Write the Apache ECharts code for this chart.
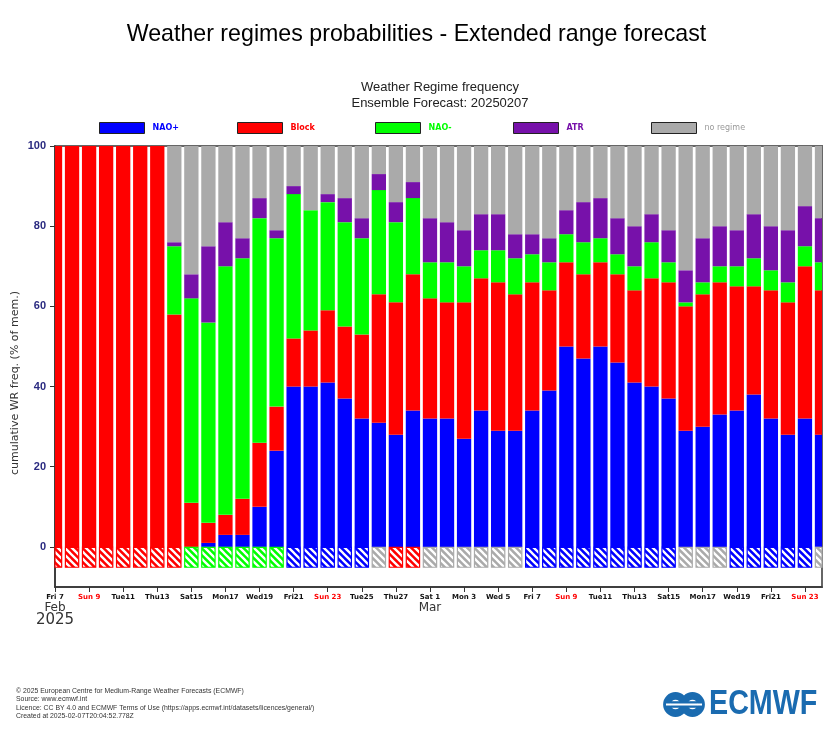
<!DOCTYPE html>
<html>
<head>
<meta charset="utf-8">
<script src="https://cdn.jsdelivr.net/npm/echarts@6/dist/echarts.min.js"></script>
<style>
html,body{margin:0;padding:0;background:#fff;}
#chart{width:833px;height:750px;}
</style>
</head>
<body>
<div id="chart"></div>
<script>
// ---- data ----
const days = ['Fri 7','Sat 8','Sun 9','Mon10','Tue11','Wed12','Thu13','Fri14','Sat15','Sun16','Mon17','Tue18','Wed19','Thu20',
  'Fri21','Sat22','Sun 23','Mon24','Tue25','Wed26','Thu27','Fri28','Sat 1','Sun 2','Mon 3','Tue 4','Wed 5','Thu 6',
  'Fri 7','Sat 8','Sun 9','Mon10','Tue11','Wed12','Thu13','Fri14','Sat15','Sun16','Mon17','Tue18','Wed19','Thu20',
  'Fri21','Sat22','Sun 23','Mon24'];
const monthLabels = {0: ['Feb', '2025'], 22: ['Mar']};
const naoPlus = [0,0,0,0,0,0,0,0,0,1,3,3,10,24,40,40,41,37,32,31,28,34,32,32,27,34,29,29,34,39,50,47,50,46,41,40,37,29,30,33,34,38,32,28,32,28];
const block   = [100,100,100,100,100,100,100,58,11,5,5,9,16,11,12,14,18,18,21,32,33,34,30,29,34,33,37,34,32,25,21,21,21,22,23,27,29,31,33,33,31,27,32,33,38,36];
const naoMinus= [0,0,0,0,0,0,0,17,51,50,62,60,56,42,36,30,27,26,24,26,20,19,9,10,9,7,8,9,7,7,7,8,6,5,6,9,5,1,3,4,5,7,5,5,5,7];
const atr     = [0,0,0,0,0,0,0,1,6,19,11,5,5,2,2,0,2,6,5,4,5,4,11,10,9,9,9,6,5,6,6,10,10,9,10,7,8,8,11,10,9,11,11,13,10,11];
const noRegime= [0,0,0,0,0,0,0,24,32,25,19,23,13,21,10,16,12,13,18,7,14,9,18,19,21,17,17,22,22,23,16,14,13,18,20,17,21,31,23,20,21,17,20,21,15,18];
// dominant regime shown in the hatched strip below 0
const dominant = ['Block','Block','Block','Block','Block','Block','Block','Block',
  'NAO-','NAO-','NAO-','NAO-','NAO-','NAO-',
  'NAO+','NAO+','NAO+','NAO+','NAO+',
  'none','Block','Block',
  'none','none','none','none','none','none',
  'NAO+','NAO+','NAO+','NAO+','NAO+','NAO+','NAO+','NAO+','NAO+',
  'none','none','none',
  'NAO+','NAO+','NAO+','NAO+','NAO+',
  'none'];
const yTicks = [0,20,40,60,80,100];

// ---- styles ----
const COLORS = {'NAO+':'#0000ff','Block':'#ff0000','NAO-':'#00ff00','ATR':'#7711aa','none':'#aaaaaa'};
const NAMES = ['NAO+','Block','NAO-','ATR','no regime'];
const KEYS = ['NAO+','Block','NAO-','ATR','none'];
const SERIES_DATA = [naoPlus, block, naoMinus, atr, noRegime];
const HATCH_DEPTH = -5.2;
const BAR_W = 14.3;

function hatch(color){
  const n = 7;
  const c = document.createElement('canvas');
  c.width = n; c.height = n;
  const g = c.getContext('2d');
  g.fillStyle = color; g.fillRect(0,0,n,n);
  g.strokeStyle = '#ffffff'; g.lineWidth = 2.3;
  g.beginPath();
  g.moveTo(-2,-2); g.lineTo(n+2,n+2);
  g.moveTo(-2,n-2); g.lineTo(2,n+2);
  g.moveTo(n-2,-2); g.lineTo(n+2,2);
  g.stroke();
  return c;
}
const hatchImgs = {};
KEYS.forEach(k => hatchImgs[k] = hatch(COLORS[k]));

const chart = echarts.init(document.getElementById('chart'), null, {renderer:'canvas'});

function clipToGrid(params, r){
  const cs = params.coordSys;
  return echarts.graphic.clipRectByRect(r, {x: cs.x, y: cs.y, width: cs.width, height: cs.height});
}
function renderBar(params, api){
  const x = api.value(0), v0 = api.value(1), v1 = api.value(2);
  if (v0 === v1) return null;
  const p0 = api.coord([x, v0]), p1 = api.coord([x, v1]);
  const r = clipToGrid(params, {x: p0[0] - BAR_W/2, y: Math.min(p0[1], p1[1]), width: BAR_W, height: Math.abs(p0[1] - p1[1])});
  if (!r) return null;
  return {type: 'rect', shape: r, style: api.style()};
}
function renderHatch(params, api){
  const x = api.value(0), v0 = api.value(1), v1 = api.value(2);
  const k = KEYS[api.value(3)];
  const p0 = api.coord([x, v0]), p1 = api.coord([x, v1]);
  const r = clipToGrid(params, {x: p0[0] - BAR_W/2 + 0.5, y: Math.min(p0[1], p1[1]) + 0.5, width: BAR_W - 1, height: Math.abs(p0[1] - p1[1]) - 1});
  if (!r) return null;
  return {type: 'rect', shape: r, style: {fill: {image: hatchImgs[k], repeat: 'repeat'}, stroke: COLORS[k], lineWidth: 1.2}};
}

// stacked segments built from the arrays
const base = days.map(() => 0);
const series = NAMES.map((n,i) => {
  const data = SERIES_DATA[i].map((v, d) => { const s = base[d]; base[d] += v; return [d, s, s + v]; });
  return {
    name: n, type: 'custom', renderItem: renderBar, data: data,
    encode: {x: 0, y: [1, 2]},
    itemStyle: {color: COLORS[KEYS[i]]},
    emphasis: {disabled: true}, animation: false
  };
});
series.push({
  name: 'dominant', type: 'custom', renderItem: renderHatch, animation: false,
  encode: {x: 0, y: [1, 2]}, emphasis: {disabled: true},
  data: dominant.map((k, d) => [d, 0, HATCH_DEPTH, KEYS.indexOf(k)])
});

const legendX = [99, 237, 375, 513, 651];
const legends = NAMES.map((n,i) => ({
  data: [n], left: legendX[i], top: 122, padding: 0,
  itemWidth: 45, itemHeight: 11, icon: 'rect', selectedMode: false,
  itemStyle: {borderColor: '#222', borderWidth: 1},
  textStyle: {color: i === 4 ? '#999999' : COLORS[KEYS[i]], fontSize: 8, fontWeight: i === 4 ? 'normal' : 'bold',
    fontFamily: 'DejaVu Sans', padding: [0,0,0,3]}
}));

const footer = [
  '© 2025 European Centre for Medium-Range Weather Forecasts (ECMWF)',
  'Source: www.ecmwf.int',
  'Licence: CC BY 4.0 and ECMWF Terms of Use (https://apps.ecmwf.int/datasets/licences/general/)',
  'Created at 2025-02-07T20:04:52.778Z'
];

const graphics = [
  {type:'text', x: 440, y: 87, style:{text:'Weather Regime frequency', font:'13px "Liberation Sans"', fill:'#222', textAlign:'center', textVerticalAlign:'middle'}},
  {type:'text', x: 440, y: 103, style:{text:'Ensemble Forecast: 20250207', font:'13px "Liberation Sans"', fill:'#222', textAlign:'center', textVerticalAlign:'middle'}},
  {type:'text', x: 15, y: 383, rotation: Math.PI/2, style:{text:'cumulative WR freq. (% of mem.)', font:'11px "DejaVu Sans"', fill:'#333', textAlign:'center', textVerticalAlign:'middle'}}
];
footer.forEach((t,i) => graphics.push({type:'group', x:16, y: 691 + i*8.2, scaleX: 0.86,
  children: [{type:'text', style:{text:t, fontSize: 8, fontFamily:'Liberation Sans', fill:'#333', textAlign:'left', textVerticalAlign:'middle'}}]}));
// ECMWF logo
const LOGO = '#1a6bb0';
graphics.push(
  {type:'circle', shape:{cx:675.5, cy:704.5, r:8.6}, style:{fill:'none', stroke:LOGO, lineWidth:7.6}},
  {type:'circle', shape:{cx:692.5, cy:704.5, r:8.6}, style:{fill:'none', stroke:LOGO, lineWidth:7.6}},
  {type:'rect', shape:{x:671, y:701.2, width:26, height:6.6}, style:{fill:LOGO}},
  {type:'rect', shape:{x:666, y:703.6, width:36, height:1.8}, style:{fill:'#fff'}},
  {type:'group', x:709, y:704.5, scaleX:0.82, children:[
    {type:'text', style:{text:'ECMWF', fontSize:35, fontWeight:'bold', fontFamily:'Liberation Sans', fill:LOGO, textAlign:'left', textVerticalAlign:'middle'}}
  ]}
);

const option = {
  backgroundColor: '#ffffff',
  animation: false,
  title: {text: 'Weather regimes probabilities - Extended range forecast', left: 'center', top: 18,
    textStyle: {fontSize: 23.2, fontWeight: 'normal', color: '#000', fontFamily: 'Liberation Sans'}},
  legend: legends,
  grid: {left: 55, right: 11, top: 146, bottom: 163, show: true, borderColor: '#666', borderWidth: 2, containLabel: false},
  xAxis: {
    type: 'category', data: days, boundaryGap: false,
    axisLine: {onZero: false, lineStyle: {color: '#333', width: 1.5}},
    axisTick: {interval: 1, length: 5, lineStyle: {color: '#333'}},
    axisLabel: {
      interval: 1, margin: 6,
      formatter: (v, idx) => {
        const style = v.startsWith('Sun') ? 's' : 'd';
        let s = '{' + style + '|' + v + '}';
        const m = monthLabels[idx];
        if (m) { s += '\n{m|' + m[0] + '}'; if (m[1]) s += '\n{y|' + m[1] + '}'; }
        return s;
      },
      rich: {
        d: {fontSize: 7, fontWeight: 'bold', color: '#111', fontFamily: 'DejaVu Sans', lineHeight: 9},
        s: {fontSize: 7, fontWeight: 'bold', color: '#ff0000', fontFamily: 'DejaVu Sans', lineHeight: 9},
        m: {fontSize: 12, color: '#333', fontFamily: 'DejaVu Sans', lineHeight: 11},
        y: {fontSize: 15, color: '#333', fontFamily: 'DejaVu Sans', lineHeight: 15}
      }
    },
    splitLine: {show: false}
  },
  yAxis: {
    type: 'value', min: -10, max: 100,
    axisLine: {show: true, lineStyle: {color: '#333', width: 1.5}},
    axisTick: {show: true, length: 5, customValues: yTicks, lineStyle: {color: '#333'}},
    axisLabel: {customValues: yTicks, margin: 9, fontSize: 11, fontWeight: 'bold', color: '#2a2a80', fontFamily: 'Liberation Sans'},
    splitLine: {show: false}
  },
  graphic: graphics,
  series: series
};
chart.setOption(option);
</script>
</body>
</html>
